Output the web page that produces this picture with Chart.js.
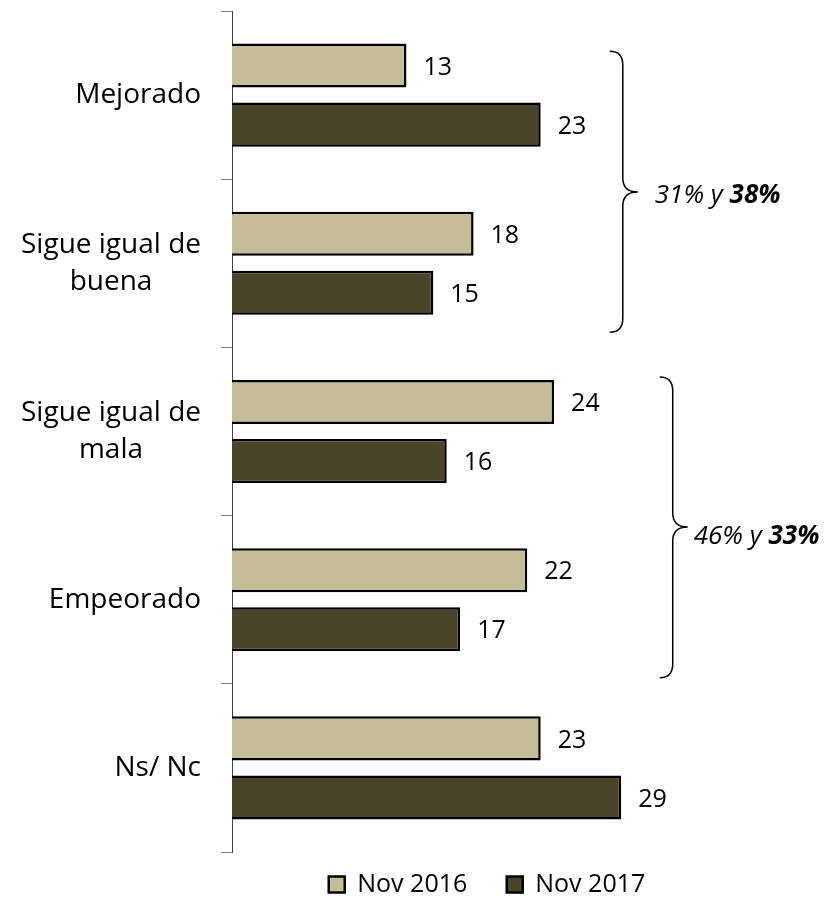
<!DOCTYPE html>
<html>
<head>
<meta charset="utf-8">
<script src="https://cdn.jsdelivr.net/npm/chart.js@4"></script>
<style>
	body { margin: 0; background: #fff; }
	#wrap { width: 831px; height: 908px; }
</style>
</head>
<body>
<div id="wrap"><canvas id="chart" width="831" height="908"></canvas></div>
<script>
// categories (multi line labels like in the original)
const categories = [["Mejorado"], ["Sigue igual de", "buena"], ["Sigue igual de", "mala"], ["Empeorado"], ["Ns/ Nc"]]
const seriesNames = ["Nov 2016", "Nov 2017"]
const nov2016 = [13, 18, 24, 22, 23]
const nov2017 = [23, 15, 16, 17, 29]

// the two brackets on the right side
const braceTexts = [["31% y ", "38%"], ["46% y ", "33%"]]

const FONT = "'Open Sans', 'Noto Sans', sans-serif"
const light = "#C4BD97"
const dark = "#4A442A"

// category labels drawn by hand: lines centred inside a right aligned block
const axisLabels = {
	id: "axisLabels",
	afterDraw(chart) {
		let ctx = chart.ctx
		let y = chart.scales.y
		ctx.save()
		ctx.font = "28px " + FONT
		ctx.fillStyle = "#000"
		ctx.textAlign = "center"
		ctx.textBaseline = "middle"
		let lineH = 37
		categories.forEach((lines, i) => {
			let widest = Math.max(...lines.map(l => ctx.measureText(l).width))
			let cx = y.right - 31 - widest / 2
			let cy = y.getPixelForValue(i)
			let top = cy - (lines.length - 1) * lineH / 2
			lines.forEach((l, j) => ctx.fillText(l, cx, top + j * lineH))
		})
		ctx.restore()
	}
}

// value next to each bar
const valueLabels = {
	id: "valueLabels",
	afterDatasetsDraw(chart) {
		let ctx = chart.ctx
		ctx.save()
		ctx.font = "25px " + FONT
		ctx.fillStyle = "#000"
		ctx.textAlign = "left"
		ctx.textBaseline = "middle"
		chart.data.datasets.forEach((ds, di) => {
			chart.getDatasetMeta(di).data.forEach((bar, i) => {
				ctx.fillText(ds.data[i], bar.x + 17, bar.y + 2)
			})
		})
		ctx.restore()
	}
}

// curly braces with the summed percentages
const braces = {
	id: "braces",
	afterDraw(chart) {
		let ctx = chart.ctx
		let xs = chart.scales.x
		let ys = chart.scales.y
		let specs = [
			{ x: 28.15, top: -0.26, tip: 0.576, bottom: 1.41, tx: 17, ty: 4 },
			{ x: 31.87, top: 1.676, tip: 2.568, bottom: 3.464, tx: 6, ty: 10 }
		]
		ctx.save()
		ctx.strokeStyle = "#000"
		ctx.lineWidth = 1.5
		specs.forEach((s, k) => {
			let x0 = xs.getPixelForValue(s.x)
			let x1 = x0 + 13
			let x2 = x0 + 28
			let yt = ys.getPixelForValue(s.top)
			let ym = ys.getPixelForValue(s.tip)
			let yb = ys.getPixelForValue(s.bottom)
			let r = 14
			ctx.beginPath()
			ctx.moveTo(x0, yt)
			ctx.quadraticCurveTo(x1, yt, x1, yt + r)
			ctx.lineTo(x1, ym - r)
			ctx.quadraticCurveTo(x1, ym, x2, ym)
			ctx.quadraticCurveTo(x1, ym, x1, ym + r)
			ctx.lineTo(x1, yb - r)
			ctx.quadraticCurveTo(x1, yb, x0, yb)
			ctx.stroke()

			let t = braceTexts[k]
			ctx.fillStyle = "#000"
			ctx.textBaseline = "middle"
			ctx.textAlign = "left"
			ctx.font = "italic 26px " + FONT
			let tx = x2 + s.tx
			ctx.fillText(t[0], tx, ym + s.ty)
			tx += ctx.measureText(t[0]).width
			ctx.font = "italic bold 26px " + FONT
			ctx.fillText(t[1], tx, ym + s.ty)
		})
		ctx.restore()
	}
}

Chart.defaults.font.family = FONT
Chart.defaults.color = "#000"

new Chart(document.getElementById("chart"), {
	type: "bar",
	data: {
		labels: categories,
		datasets: [{
			label: seriesNames[0],
			data: nov2016,
			backgroundColor: light,
			borderColor: "#000",
			borderWidth: 2.5
		}, {
			label: seriesNames[1],
			data: nov2017,
			backgroundColor: dark,
			borderColor: "#000",
			borderWidth: 2.5
		}]
	},
	options: {
		indexAxis: "y",
		responsive: false,
		animation: false,
		categoryPercentage: 0.702,
		barPercentage: 0.746,
		layout: { padding: { top: 11, right: 89, bottom: 1, left: 0 } },
		scales: {
			x: { display: false, min: 0, max: 38 },
			y: {
				grid: { drawOnChartArea: false, drawTicks: true, tickLength: 11, color: "#7F7F7F" },
				border: { color: "#404040", width: 1 },
				ticks: { display: false },
				afterFit(scale) { scale.width = 232 }
			}
		},
		plugins: {
			legend: {
				position: "bottom",
				fullSize: false,
				labels: {
					font: { size: 25, family: FONT },
					color: "#000",
					boxWidth: 16,
					boxHeight: 16,
					padding: 20,
					generateLabels(chart) {
						let items = Chart.defaults.plugins.legend.labels.generateLabels(chart)
						// a bit more room between the two entries
						items[0].text = items[0].text + "   "
						return items
					}
				}
			},
			tooltip: { enabled: false }
		}
	},
	plugins: [axisLabels, valueLabels, braces]
})
</script>
</body>
</html>
